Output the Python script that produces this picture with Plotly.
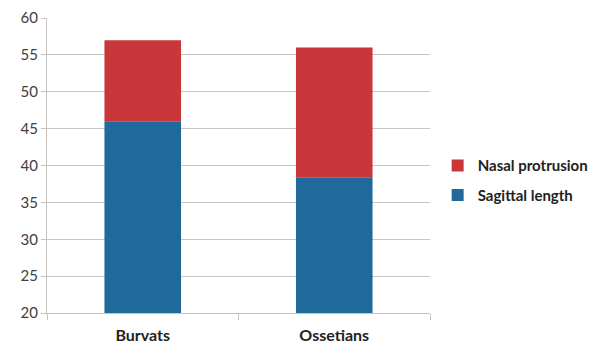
import plotly.graph_objects as go

categories = ["Burvats", "Ossetians"]
sagittal_length = [46.0, 38.4]
nasal_protrusion = [11.0, 17.6]
y_ticks = [20, 25, 30, 35, 40, 45, 50, 55, 60]

BASE = 20
fig = go.Figure()
fig.add_trace(go.Bar(
    x=categories, y=[v - BASE for v in sagittal_length], base=BASE,
    name="Sagittal length", legendgroup="s", legendrank=2,
    marker=dict(color="#1f6a9b", line=dict(width=0)),
))
fig.add_trace(go.Bar(
    x=categories, y=nasal_protrusion, base=sagittal_length,
    name="Nasal protrusion", legendgroup="n", legendrank=1,
    marker=dict(color="#c9373a", line=dict(width=0)),
))

grid = "#cbc3bd"
fig.update_layout(
    barmode="overlay",
    bargap=0.6,
    width=594, height=347,
    margin=dict(l=47, r=164, t=18, b=34, autoexpand=False),
    plot_bgcolor="white", paper_bgcolor="white",
    font=dict(family="Lato, Open Sans, sans-serif", color="#404040", size=13),
    showlegend=True,
    legend=dict(
        x=1.02, y=0.45, xanchor="left", yanchor="middle",
        traceorder="grouped",
        font=dict(size=15, color="#222222", family="Lato, sans-serif", weight="bold"),
        itemsizing="constant", tracegroupgap=7, itemwidth=30,
    ),
    xaxis=dict(
        type="category", tickson="boundaries", ticks="outside", ticklen=6,
        tickcolor=grid, showline=True, linecolor=grid, linewidth=1,
        showgrid=False, ticklabelstandoff=8, automargin=False,
        tickfont=dict(size=16, color="#222222", family="Lato, sans-serif", weight="bold"),
    ),
    yaxis=dict(
        range=[20, 60], tickvals=y_ticks, ticks="outside", ticklen=5,
        tickcolor=grid, showline=True, linecolor=grid, linewidth=1,
        showgrid=True, gridcolor=grid, gridwidth=1, zeroline=False,
        automargin=False,
        tickfont=dict(size=15, color="#404040"),
    ),
)
fig.write_html("out.html")
